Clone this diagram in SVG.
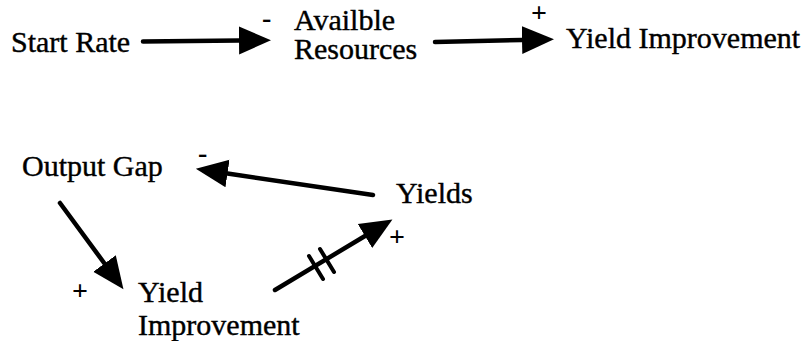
<svg xmlns="http://www.w3.org/2000/svg" width="810" height="341" viewBox="0 0 810 341">
<defs>
<style>
.c{stroke:#000;stroke-width:4.5;fill:none;stroke-linecap:round}
.h{stroke:#000;stroke-width:4;fill:none;stroke-linecap:round}
</style>
<marker id="ah" viewBox="0 -16 34 32" refX="0" refY="0" markerWidth="34" markerHeight="32" markerUnits="userSpaceOnUse" orient="auto">
<path d="M0,-14 L32,0 L0,14 Z" fill="#000"/>
</marker>
</defs>
<rect width="810" height="341" fill="#fff"/>
<g font-family="Liberation Serif, Times New Roman, serif" font-size="30" fill="#000" stroke="#000" stroke-width="0.4">
<g id="start-rate"><text x="11" y="52">Start Rate</text></g>
<g id="available-resources"><text x="294" y="30">Availble</text><text x="294" y="59">Resources</text></g>
<g id="yield-improvement-top"><text x="566" y="48">Yield Improvement</text></g>
<g id="output-gap"><text x="22" y="176">Output Gap</text></g>
<g id="yields"><text x="396" y="203">Yields</text></g>
<g id="yield-improvement-bottom"><text x="138" y="302">Yield</text><text x="138" y="335">Improvement</text></g>
</g>
<g id="connectors">
<line class="c" x1="143" y1="41.5" x2="239" y2="40.5" marker-end="url(#ah)"/>
<line class="c" x1="435" y1="42" x2="522" y2="40" marker-end="url(#ah)"/>
<line class="c" x1="373" y1="195" x2="227.5" y2="173.5" marker-end="url(#ah)"/>
<line class="c" x1="60" y1="203" x2="104.5" y2="263.5" marker-end="url(#ah)"/>
<line class="c" x1="275" y1="290" x2="365" y2="236" marker-end="url(#ah)"/>
<line class="h" x1="309" y1="256" x2="323" y2="279"/>
<line class="h" x1="320" y1="249" x2="334" y2="272"/>
</g>
<g id="signs" font-family="Liberation Serif, Times New Roman, serif" font-size="28" font-weight="bold" fill="#000">
<text x="262" y="27">-</text>
<text x="531" y="22">+</text>
<text x="198" y="162">-</text>
<text x="72" y="300">+</text>
<text x="389" y="246">+</text>
</g>
</svg>
